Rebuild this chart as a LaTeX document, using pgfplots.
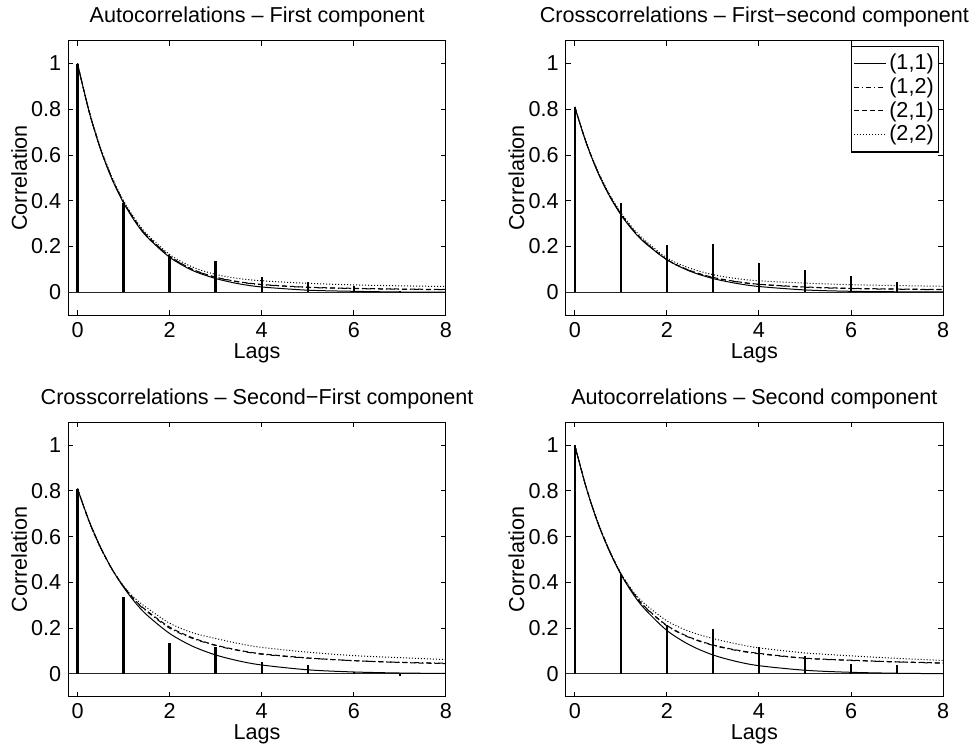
\documentclass[border=0pt]{standalone}
\usepackage{fontspec}
\setmainfont{Liberation Sans}
\usepackage{pgfplots}
\usepackage{pgfplotstable}
\pgfplotsset{compat=1.18}
\usepgfplotslibrary{groupplots}

% stem heights, one column per panel
\pgfplotstableread{
lag  p1     p2     p3      p4
0    1      0.81   0.81    1
1    0.39   0.391  0.338   0.437
2    0.158  0.205  0.135   0.214
3    0.138  0.212  0.116   0.197
4    0.065  0.129  0.051   0.116
5    0.046  0.097  0.041   0.080
6    0.027  0.071  0.010   0.044
7    0.005  0.046  -0.007  0.041
}\stems

% curves: a=(1,1) b=(1,2) c=(2,1) d=(2,2)
\pgfplotstableread{
x    a      b      c      d
0    1      1      1      1
0.25 0.791  0.792  0.792  0.795
0.5  0.625  0.627  0.627  0.632
0.75 0.494  0.497  0.497  0.503
1    0.391  0.394  0.395  0.400
1.25 0.309  0.313  0.314  0.320
1.5  0.244  0.248  0.249  0.256
2    0.153  0.157  0.158  0.165
2.5  0.095  0.099  0.100  0.110
3    0.060  0.065  0.066  0.078
3.5  0.037  0.045  0.046  0.060
4    0.023  0.033  0.034  0.050
5    0.009  0.021  0.022  0.039
6    0.004  0.016  0.017  0.032
7    0.001  0.013  0.014  0.028
8    0.0005 0.011  0.012  0.025
}\curvesA

\pgfplotstableread{
x    a      b      c      d
0    0.81   0.81   0.81   0.81
0.25 0.652  0.653  0.653  0.655
0.5  0.524  0.526  0.526  0.530
0.75 0.422  0.424  0.425  0.430
1    0.339  0.342  0.343  0.348
1.25 0.273  0.276  0.277  0.283
1.5  0.220  0.223  0.224  0.231
2    0.142  0.142  0.143  0.150
2.5  0.092  0.094  0.095  0.105
3    0.060  0.064  0.065  0.077
3.5  0.039  0.046  0.047  0.060
4    0.025  0.034  0.035  0.050
5    0.010  0.022  0.023  0.040
6    0.004  0.016  0.017  0.033
7    0.002  0.013  0.014  0.029
8    0.001  0.011  0.012  0.026
}\curvesB

\pgfplotstableread{
x    a      b      c      d
0    0.81   0.81   0.81   0.81
0.25 0.670  0.668  0.668  0.665
0.5  0.554  0.553  0.553  0.550
0.75 0.458  0.458  0.458  0.458
1    0.379  0.382  0.383  0.385
1.25 0.313  0.320  0.322  0.330
1.5  0.259  0.274  0.277  0.290
2    0.177  0.200  0.205  0.222
2.5  0.121  0.155  0.158  0.180
3    0.083  0.124  0.126  0.155
3.5  0.057  0.102  0.104  0.133
4    0.039  0.086  0.088  0.116
5    0.018  0.069  0.070  0.095
6    0.0085 0.058  0.058  0.080
7    0.004  0.051  0.050  0.071
8    0.002  0.047  0.045  0.063
}\curvesC

\pgfplotstableread{
x    a      b      c      d
0    1      1      1      1
0.25 0.813  0.814  0.814  0.815
0.5  0.660  0.662  0.662  0.665
0.75 0.537  0.540  0.540  0.542
1    0.436  0.438  0.438  0.440
1.25 0.354  0.359  0.360  0.365
1.5  0.288  0.296  0.298  0.310
2    0.190  0.210  0.212  0.232
2.5  0.126  0.158  0.160  0.185
3    0.083  0.125  0.127  0.155
3.5  0.055  0.103  0.105  0.132
4    0.036  0.088  0.090  0.114
5    0.016  0.068  0.069  0.092
6    0.007  0.059  0.060  0.079
7    0.003  0.052  0.053  0.068
8    0.001  0.047  0.048  0.059
}\curvesD

\pgfplotsset{
  every axis title/.style={at={(0.5,1.0656)}, anchor=base},
  every axis x label/.style={at={(0.5,-0.1566)}, anchor=base},
  every axis y label/.style={at={(-0.11,0.5)}, rotate=90, anchor=base},
  c11/.style={black, line width=0.5pt, solid, smooth},
  c12/.style={black, line width=0.5pt, dash pattern=on 2.5pt off 1.5pt on 0.5pt off 1.5pt, smooth},
  c21/.style={black, line width=0.5pt, dash pattern=on 2.5pt off 1.5pt, smooth},
  c22/.style={black, line width=0.5pt, dash pattern=on 0.5pt off 1pt, smooth},
  stem/.style={ycomb, black, line width=1.2pt, no marks, forget plot},
}

\newcommand{\panel}[2]{%
  \addplot[black!85, line width=0.5pt, forget plot] coordinates {(-0.2,0) (8,0)};
  \addplot[stem] table[x=lag, y=#2] {\stems};
  \addplot[c11] table[x=x, y=a] {#1};
  \addplot[c12] table[x=x, y=b] {#1};
  \addplot[c21] table[x=x, y=c] {#1};
  \addplot[c22] table[x=x, y=d] {#1};
}

\begin{document}
\begin{tikzpicture}[font=\fontsize{10.8}{12.5}\selectfont]
\begin{groupplot}[
  group style={group size=2 by 2, horizontal sep=59.85pt, vertical sep=53.65pt},
  scale only axis, width=188.8pt, height=137.2pt,
  xmin=-0.2, xmax=8, ymin=-0.1, ymax=1.1,
  xtick={0,2,4,6,8}, ytick={0,0.2,0.4,0.6,0.8,1},
  tick align=inside, major tick length=2.5pt,
  axis line style={line width=0.5pt},
  every tick/.style={black, line width=0.5pt},
  /pgf/number format/assume math mode=true,
  xlabel={Lags}, ylabel={Correlation},
  legend cell align=left,
  legend image code/.code={\draw[#1] (0pt,0pt) -- (16pt,0pt);},
  legend style={at={(0.99,0.982)}, anchor=north east, draw=black, line width=0.7pt,
    inner xsep=1pt, inner ysep=2.5pt, row sep=-0.5pt,
    nodes={inner sep=1.5pt, line width=0.5pt}},
]
\nextgroupplot[title={Autocorrelations – First component}]
  \coordinate (tl) at (rel axis cs:0,1);
  \panel{\curvesA}{p1}
\nextgroupplot[title={Crosscorrelations – First−second component}]
  \panel{\curvesB}{p2}
  \addlegendentry{(1,1)}
  \addlegendentry{(1,2)}
  \addlegendentry{(2,1)}
  \addlegendentry{(2,2)}
\nextgroupplot[title={Crosscorrelations – Second−First component}]
  \panel{\curvesC}{p3}
\nextgroupplot[title={Autocorrelations – Second component}]
  \panel{\curvesD}{p4}
\end{groupplot}
\pgfresetboundingbox
\path[use as bounding box] (tl) ++(-34.15pt,20.35pt) rectangle ++(485.5pt,-374.5pt);
\end{tikzpicture}
\end{document}
